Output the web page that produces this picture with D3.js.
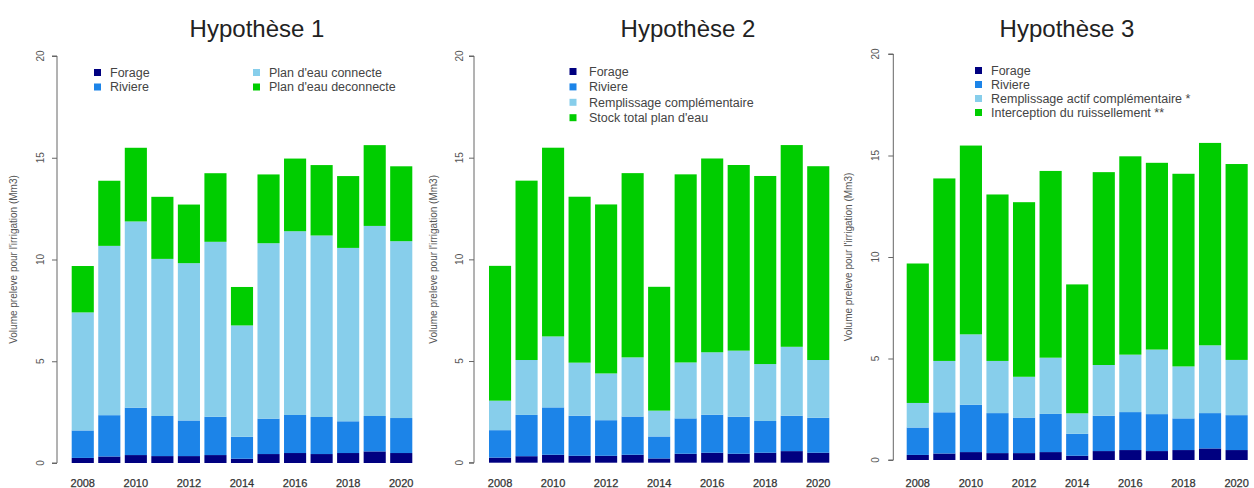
<!DOCTYPE html>
<html>
<head>
<meta charset="utf-8">
<script src="https://cdn.jsdelivr.net/npm/d3@7"></script>
<style>
  html, body { margin: 0; padding: 0; background: #fff; }
  svg { display: block; font-family: "Liberation Sans", Arial, sans-serif; }
</style>
</head>
<body>
<svg id="chart" width="1254" height="488"></svg>
<script>
// ---- data ----
const years = [2008, 2009, 2010, 2011, 2012, 2013, 2014, 2015, 2016, 2017, 2018, 2019, 2020];
const yTicks = [0, 5, 10, 15, 20];
const xTickLabels = [2008, 2010, 2012, 2014, 2016, 2018, 2020];

const forage  = [0.25, 0.32, 0.39, 0.34, 0.34, 0.39, 0.21, 0.44, 0.49, 0.44, 0.49, 0.57, 0.49];
const riviere = [1.35, 2.03, 2.33, 1.97, 1.75, 1.88, 1.08, 1.74, 1.87, 1.82, 1.56, 1.74, 1.72];

// Hypothese 1
const h1Connecte    = [5.80, 8.32, 9.15, 7.72, 7.73, 8.60, 5.47, 8.62, 9.03, 8.92, 8.52, 9.34, 8.69];
const h1Deconnecte  = [2.28, 3.20, 3.62, 3.05, 2.88, 3.37, 1.89, 3.38, 3.57, 3.46, 3.53, 3.97, 3.68];
// Hypothese 2
const h2Remplissage = [1.45, 2.70, 3.49, 2.61, 2.30, 2.91, 1.27, 2.75, 3.07, 3.25, 2.80, 3.39, 2.84];
const h2Stock       = [6.63, 8.82, 9.28, 8.16, 8.31, 9.06, 6.09, 9.25, 9.53, 9.13, 9.25, 9.92, 9.53];
// Hypothese 3
const h3Remplissage = [1.21, 2.53, 3.47, 2.57, 2.01, 2.77, 1.01, 2.50, 2.83, 3.18, 2.56, 3.34, 2.72];
const h3Interception= [6.87, 8.99, 9.30, 8.20, 8.60, 9.20, 6.35, 9.50, 9.77, 9.20, 9.49, 9.97, 9.65];

const titles = ["Hypothèse 1", "Hypothèse 2", "Hypothèse 3"];
const yLabel = "Volume preleve pour l'irrigation (Mm3)";
const names1 = ["Forage", "Riviere", "Plan d'eau connecte", "Plan d'eau deconnecte"];
const names2 = ["Forage", "Riviere", "Remplissage complémentaire", "Stock total plan d'eau"];
const names3 = ["Forage", "Riviere", "Remplissage actif complémentaire *", "Interception du ruissellement **"];

const colors = ["#000080", "#1C84E8", "#87CEEB", "#00CD00"];

// ---- layout ----
const panels = [
  { series: [forage, riviere, h1Connecte, h1Deconnecte], names: names1, title: titles[0],
    axisX: 57, y0: 463, y20: 56, barL: 71.7, barR: 412.3, tickLabX: 40, yLabX: 13, titleX: 257,
    legend: { cols: [[0,1],[2,3]], colX: [94, 253], textX: [110, 269], rowY0: 72.5, rowDy: 14.5 } },
  { series: [forage, riviere, h2Remplissage, h2Stock], names: names2, title: titles[1],
    axisX: 474, y0: 462.7, y20: 56, barL: 489, barR: 829.3, tickLabX: 459, yLabX: 433, titleX: 688,
    legend: { cols: [[0,1,2,3]], colX: [569.5], textX: [589], rowY0: 71.5, rowDy: 15.4 } },
  { series: [forage, riviere, h3Remplissage, h3Interception], names: names3, title: titles[2],
    axisX: 893.3, y0: 460, y20: 54, barL: 906.7, barR: 1247.7, tickLabX: 875, yLabX: 848, titleX: 1067,
    legend: { cols: [[0,1,2,3]], colX: [975], textX: [991], rowY0: 70.5, rowDy: 14 } }
];

const svg = d3.select("#chart");

panels.forEach(p => {
  const g = svg.append("g");
  const y = d3.scaleLinear().domain([0, 20]).range([p.y0, p.y20]);
  const x = d3.scaleBand().domain(years).range([p.barL, p.barR]).paddingInner(1/6).paddingOuter(0);

  // stacked data
  const rows = years.map((yr, i) => {
    const o = { year: yr };
    p.series.forEach((s, k) => o["s" + k] = s[i]);
    return o;
  });
  const stack = d3.stack().keys(p.series.map((s, k) => "s" + k))(rows);

  g.selectAll("g.layer").data(stack).join("g")
    .attr("fill", (d, k) => colors[k])
    .selectAll("rect").data(d => d).join("rect")
      .attr("x", d => x(d.data.year))
      .attr("width", x.bandwidth())
      .attr("y", d => y(d[1]))
      .attr("height", d => y(d[0]) - y(d[1]));

  // y axis
  const ax = g.append("g").attr("transform", `translate(${p.axisX},0)`)
    .call(d3.axisLeft(y).tickValues(yTicks).tickSize(5).tickFormat(""));
  ax.select(".domain").attr("stroke", "#666").attr("d", `M-5,${y(0)}H0V${y(20)}H-5`);
  ax.selectAll(".tick line").attr("stroke", "#666");

  g.selectAll("text.ytl").data(yTicks).join("text")
    .attr("class", "ytl")
    .attr("transform", d => `translate(${p.tickLabX},${y(d)}) rotate(-90)`)
    .attr("text-anchor", "middle")
    .attr("dy", "0.35em")
    .attr("font-size", 10)
    .attr("fill", "#555")
    .text(d => d);

  // y label
  g.append("text")
    .attr("transform", `translate(${p.yLabX},${(y(0)+y(20))/2}) rotate(-90)`)
    .attr("text-anchor", "middle")
    .attr("dy", "0.35em")
    .attr("font-size", 10)
    .attr("fill", "#555")
    .text(yLabel);

  // x labels
  g.selectAll("text.xtl").data(xTickLabels).join("text")
    .attr("class", "xtl")
    .attr("x", d => x(d) + x.bandwidth() / 2)
    .attr("y", 487)
    .attr("text-anchor", "middle")
    .attr("font-size", 11)
    .attr("fill", "#333")
    .attr("stroke", "#333")
    .attr("stroke-width", 0.25)
    .text(d => d);

  // title
  g.append("text")
    .attr("x", p.titleX).attr("y", 37)
    .attr("text-anchor", "middle")
    .attr("font-size", 24)
    .attr("fill", "#222")
    .text(p.title);

  // legend
  p.legend.cols.forEach((col, ci) => {
    col.forEach((k, ri) => {
      const cy = p.legend.rowY0 + ri * p.legend.rowDy;
      g.append("rect")
        .attr("x", p.legend.colX[ci]).attr("y", cy - 3.5)
        .attr("width", 7).attr("height", 7)
        .attr("fill", colors[k]);
      g.append("text")
        .attr("x", p.legend.textX[ci]).attr("y", cy)
        .attr("dy", "0.35em")
        .attr("font-size", 12.5)
        .attr("fill", "#444")
        .text(p.names[k]);
    });
  });
});
</script>
</body>
</html>
